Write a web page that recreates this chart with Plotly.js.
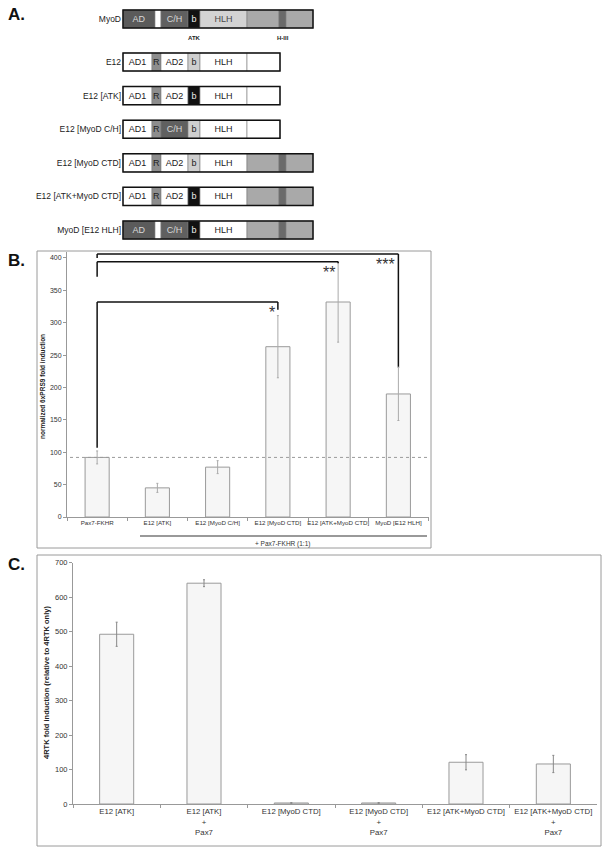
<!DOCTYPE html>
<html>
<head>
<meta charset="utf-8">
<script src="https://cdn.plot.ly/plotly-3.0.1.min.js"></script>
<style>
  html, body { margin: 0; padding: 0; background: #fff; }
  #chart { width: 607px; height: 860px; }
</style>
</head>
<body>
<div id="chart"></div>
<script>
// ---- Panel A: domain maps of the constructs ----
const constructNames = ['MyoD', 'E12', 'E12 [ATK]', 'E12 [MyoD C/H]', 'E12 [MyoD CTD]',
    'E12 [ATK+MyoD CTD]', 'MyoD [E12 HLH]'];
const constructDomains = [
    ['AD', 'gap', 'CH', 'bBlack', 'HLHgray', 'CTD1', 'H3', 'CTD2'],
    ['AD1', 'R', 'AD2', 'bLight', 'HLH', 'tail'],
    ['AD1', 'R', 'AD2', 'bBlack', 'HLH', 'tail'],
    ['AD1', 'R', 'CH', 'bLight', 'HLH', 'tail'],
    ['AD1', 'R', 'AD2', 'bLight', 'HLH', 'CTD1', 'H3', 'CTD2'],
    ['AD1', 'R', 'AD2', 'bBlack', 'HLH', 'CTD1', 'H3', 'CTD2'],
    ['AD', 'gap', 'CH', 'bBlack', 'HLH', 'CTD1', 'H3', 'CTD2']
];
// extent of each domain (schematic units)
const domainStart = { AD: 0, gap: 32, CH: 38, bBlack: 65, HLHgray: 77, CTD1: 124, H3: 156, CTD2: 163,
    AD1: 0, R: 29, AD2: 38, bLight: 65, HLH: 77, tail: 124 };
const domainEnd = { AD: 32, gap: 38, CH: 65, bBlack: 77, HLHgray: 124, CTD1: 156, H3: 163, CTD2: 190,
    AD1: 29, R: 38, AD2: 65, bLight: 77, HLH: 124, tail: 157 };
const domainLabel = { AD: 'AD', gap: '', CH: 'C/H', bBlack: 'b', HLHgray: 'HLH', CTD1: '', H3: '', CTD2: '',
    AD1: 'AD1', R: 'R', AD2: 'AD2', bLight: 'b', HLH: 'HLH', tail: '' };

// ---- Panel B: 6xPRS9 reporter ----
const bCategories = ['Pax7-FKHR', 'E12 [ATK]', 'E12 [MyoD C/H]', 'E12 [MyoD CTD]',
    'E12 [ATK+MyoD CTD]', 'MyoD [E12 HLH]'];
const bValues = [92, 45, 77, 263, 332, 190];
const bErrors = [10, 7, 10, 48, 62, 41];
const bBaseline = 92;
// significance brackets, all against Pax7-FKHR
const sigTo = [3, 4, 5];
const sigLevel = [332, 394, 406];
const sigLeftEnd = [107, 371, 400];
const sigRightEnd = [320, 392, 232];
const sigMarks = ['*', '**', '***'];

// ---- Panel C: 4RTK reporter ----
const cCategories = ['E12 [ATK]', 'E12 [ATK]<br>+<br>Pax7', 'E12 [MyoD CTD]', 'E12 [MyoD CTD]<br>+<br>Pax7',
    'E12 [ATK+MyoD CTD]', 'E12 [ATK+MyoD CTD]<br>+<br>Pax7'];
const cValues = [492, 640, 3, 3, 121, 116];
const cErrors = [35, 10, 1, 1, 22, 25];

// helpers: pixel -> paper
const W = 607, H = 860;
const px = x => x / W;
const py = y => 1 - y / H;

const fillOf = { AD: '#5b5b5b', gap: '#ffffff', CH: '#606060', bBlack: '#111111', HLHgray: '#d3d3d3',
    CTD1: '#a9a9a9', H3: '#6a6a6a', CTD2: '#a9a9a9', AD1: '#ffffff', R: '#8d8d8d', AD2: '#ffffff',
    bLight: '#cfcfcf', HLH: '#ffffff', tail: '#ffffff' };
const textColorOf = { AD: '#d9d9d9', CH: '#d9d9d9', bBlack: '#eeeeee', HLHgray: '#4a4a4a' };

const FONT = 'Liberation Sans, Arial, Helvetica, sans-serif';
const traces = [];

// row positions: MyoD sits a bit further from the rest
const rowY = constructNames.map((n, i) => i === 0 ? -0.28 : i);

constructNames.forEach((name, i) => {
    let total = 0;
    constructDomains[i].forEach(key => {
        const s = domainStart[key], e = domainEnd[key];
        total = Math.max(total, e);
        traces.push({
            type: 'bar', orientation: 'h', xaxis: 'x3', yaxis: 'y3',
            y: [rowY[i]], x: [e - s], base: [s], width: 0.54,
            marker: { color: fillOf[key], line: { color: '#7a7a7a', width: 0.6 } },
            text: [domainLabel[key]], textposition: 'inside', insidetextanchor: 'middle',
            textangle: 0, constraintext: 'none',
            textfont: { size: 9, family: FONT, color: textColorOf[key] || '#222' },
            hoverinfo: 'skip', showlegend: false
        });
    });
    // outer frame
    traces.push({
        type: 'bar', orientation: 'h', xaxis: 'x3', yaxis: 'y3',
        y: [rowY[i]], x: [total], base: [0], width: 0.54,
        marker: { color: 'rgba(0,0,0,0)', line: { color: '#111', width: 1.5 } },
        hoverinfo: 'skip', showlegend: false
    });
});

traces.push({
    type: 'bar', x: bCategories, y: bValues, width: 0.4, xaxis: 'x', yaxis: 'y',
    marker: { color: '#f6f6f6', line: { color: '#9a9a9a', width: 1 } },
    error_y: { type: 'data', array: bErrors, visible: true, color: '#aaaaaa', thickness: 1, width: 1 },
    showlegend: false
});

traces.push({
    type: 'bar', x: cCategories, y: cValues, width: 0.39, xaxis: 'x2', yaxis: 'y2',
    marker: { color: '#f6f6f6', line: { color: '#9a9a9a', width: 1 } },
    error_y: { type: 'data', array: cErrors, visible: true, color: '#888888', thickness: 1, width: 1 },
    showlegend: false
});

const shapes = [
    // panel frames
    { type: 'rect', xref: 'paper', yref: 'paper', x0: px(37), x1: px(431), y0: py(548), y1: py(251),
        line: { color: '#9a9a9a', width: 1 } },
    { type: 'rect', xref: 'paper', yref: 'paper', x0: px(37), x1: px(601), y0: py(846), y1: py(555),
        line: { color: '#9a9a9a', width: 1 } },
    // co-transfection bar under B
    { type: 'line', xref: 'paper', yref: 'paper', x0: px(140), x1: px(427), y0: py(536), y1: py(536),
        line: { color: '#777', width: 1.5 } },
    // Pax7-FKHR reference level
    { type: 'line', xref: 'x', yref: 'y', x0: -0.45, x1: 5.5, y0: bBaseline, y1: bBaseline,
        line: { color: '#9a9a9a', width: 1, dash: 'dot' } }
];

const annotations = [
    { text: '<b>A.</b>', x: px(6), y: py(14), xanchor: 'left' },
    { text: '<b>B.</b>', x: px(6), y: py(260), xanchor: 'left' },
    { text: '<b>C.</b>', x: px(6), y: py(564), xanchor: 'left' }
].map(a => Object.assign(a, { xref: 'paper', yref: 'paper', yanchor: 'middle', showarrow: false,
    font: { size: 17, family: FONT, color: '#111' } }));

annotations.push(
    { text: '<b>ATK</b>', xref: 'x3', yref: 'paper', x: 71, y: py(33), showarrow: false,
        font: { size: 6, family: FONT, color: '#222' } },
    { text: '<b>H-III</b>', xref: 'x3', yref: 'paper', x: 159.5, y: py(33), showarrow: false,
        font: { size: 6, family: FONT, color: '#222' } },
    { text: '<b>normalized 6xPRS9 fold induction</b>', xref: 'paper', yref: 'paper',
        x: px(43), y: py(387), xanchor: 'center', yanchor: 'middle', textangle: -90, showarrow: false,
        font: { size: 6.5, family: FONT, color: '#222' } },
    { text: '<b>4RTK fold induction (relative to 4RTK only)</b>', xref: 'paper', yref: 'paper',
        x: px(46), y: py(683), xanchor: 'center', yanchor: 'middle', textangle: -90, showarrow: false,
        font: { size: 7.5, family: FONT, color: '#222' } },
    { text: '+ Pax7-FKHR (1:1)', xref: 'paper', yref: 'paper', x: px(282), y: py(544),
        showarrow: false, font: { size: 6.5, family: FONT, color: '#333' } }
);

// significance brackets
sigTo.forEach((to, k) => {
    const lc = { color: '#111', width: 1.5 };
    shapes.push(
        { type: 'line', xref: 'x', yref: 'y', x0: 0, x1: to, y0: sigLevel[k], y1: sigLevel[k], line: lc },
        { type: 'line', xref: 'x', yref: 'y', x0: 0, x1: 0, y0: sigLevel[k], y1: sigLeftEnd[k], line: lc },
        { type: 'line', xref: 'x', yref: 'y', x0: to, x1: to, y0: sigLevel[k], y1: sigRightEnd[k], line: lc }
    );
    annotations.push({
        text: sigMarks[k], xref: 'x', yref: 'y', x: to, y: sigLevel[k], xanchor: 'right',
        yanchor: 'top', xshift: -1, yshift: 0, showarrow: false,
        font: { size: 16, family: FONT, color: '#333' }
    });
});

const axisLine = { showline: true, linecolor: '#999', linewidth: 1, showgrid: false, zeroline: false,
    ticks: 'outside', tickcolor: '#999', ticklen: 3 };

const layout = {
    width: W, height: H,
    margin: { l: 0, r: 0, t: 0, b: 0 },
    paper_bgcolor: '#fff', plot_bgcolor: 'rgba(0,0,0,0)',
    font: { family: FONT, color: '#333' },
    barmode: 'overlay', showlegend: false,
    xaxis: Object.assign({}, axisLine, {
        domain: [px(67), px(429)], type: 'category', tickson: 'boundaries', tickangle: 0,
        tickfont: { size: 6.2, family: FONT, color: '#333' }
    }),
    yaxis: Object.assign({}, axisLine, {
        domain: [py(517), py(251.5)], range: [0, 410], tickvals: [0, 50, 100, 150, 200, 250, 300, 350, 400],
        tickfont: { size: 7, family: FONT, color: '#333' }
    }),
    xaxis2: Object.assign({}, axisLine, {
        domain: [px(73), px(597)], type: 'category', tickson: 'boundaries', tickangle: 0, anchor: 'y2',
        tickfont: { size: 7.8, family: FONT, color: '#333' }
    }),
    yaxis2: Object.assign({}, axisLine, {
        domain: [py(804), py(562.5)], range: [0, 700], dtick: 100, anchor: 'x2',
        tickfont: { size: 7.5, family: FONT, color: '#333' }
    }),
    xaxis3: {
        domain: [px(122), px(314)], range: [-1, 191], anchor: 'y3', visible: false, fixedrange: true
    },
    yaxis3: {
        domain: [py(250.2), py(1.5)], range: [6.6, -0.8], anchor: 'x3',
        tickvals: rowY, ticktext: constructNames, ticks: '', showline: false, showgrid: false,
        zeroline: false, tickfont: { size: 8.5, family: FONT, color: '#222' }
    },
    shapes: shapes,
    annotations: annotations
};

Plotly.newPlot('chart', traces, layout, { staticPlot: true, displayModeBar: false });
</script>
</body>
</html>
